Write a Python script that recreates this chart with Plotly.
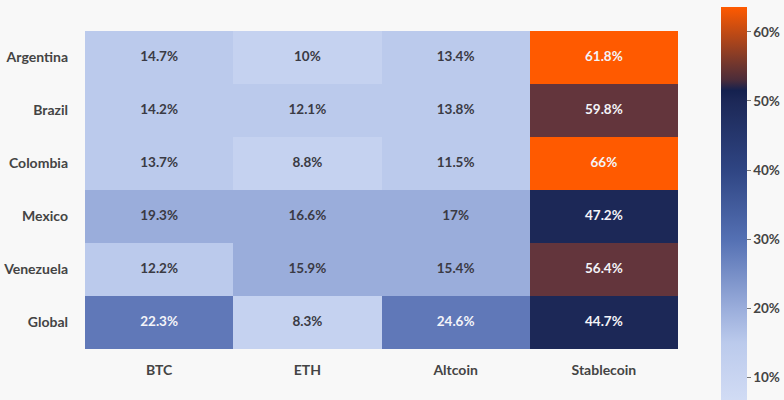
import plotly.graph_objects as go

categories = ["BTC", "ETH", "Altcoin", "Stablecoin"]
countries = ["Argentina", "Brazil", "Colombia", "Mexico", "Venezuela", "Global"]
values = [
    [14.7, 10, 13.4, 61.8],
    [14.2, 12.1, 13.8, 59.8],
    [13.7, 8.8, 11.5, 66],
    [19.3, 16.6, 17, 47.2],
    [12.2, 15.9, 15.4, 56.4],
    [22.3, 8.3, 24.6, 44.7],
]
tick_vals = [10, 20, 30, 40, 50, 60]
tick_text = ["10%", "20%", "30%", "40%", "50%", "60%"]
bin_edges = [8, 11, 15, 20, 40, 50, 60, 66]
bin_colors = ["#c5d2f0", "#bbcaec", "#9aaddb", "#6078b8", "#1c2857", "#63353c", "#ff5a00"]
bar_stops = [(6, "#d3ddf5"), (15, "#bbcaec"), (20, "#9aaddb"), (30, "#5470b3"),
             (40, "#2f4583"), (50, "#1c2857"), (51.5, "#14214f"), (53, "#4a2c3a"),
             (63.6, "#ff5a00")]

zmin, zmax = bin_edges[0], bin_edges[-1]
cell_scale = []
for i, c in enumerate(bin_colors):
    cell_scale.append([(bin_edges[i] - zmin) / (zmax - zmin), c])
    cell_scale.append([(bin_edges[i + 1] - zmin) / (zmax - zmin), c])

cmin, cmax = bar_stops[0][0], bar_stops[-1][0]
bar_scale = [[(v - cmin) / (cmax - cmin), c] for v, c in bar_stops]

xs, ys, texts, colors = [], [], [], []
for r, row in enumerate(values):
    for c, v in enumerate(row):
        xs.append(categories[c])
        ys.append(countries[r])
        texts.append(f"{v}%")
        colors.append("#f4f4f8" if v >= 20 else "#3a3a44")

fig = go.Figure()
fig.add_trace(go.Heatmap(z=values, x=categories, y=countries, colorscale=cell_scale,
                         zmin=zmin, zmax=zmax, showscale=False, hoverinfo="skip"))
fig.add_trace(go.Scatter(x=xs, y=ys, mode="text", text=texts, showlegend=False,
                         textfont=dict(family="Lato", size=13.5, color=colors, weight=700)))
fig.add_trace(go.Scatter(
    x=[categories[0]], y=[countries[0]], mode="markers", showlegend=False, hoverinfo="skip",
    marker=dict(size=1, opacity=0, color=[cmin], cmin=cmin, cmax=cmax, colorscale=bar_scale,
                showscale=True,
                colorbar=dict(
                    tickvals=tick_vals, ticktext=tick_text, thickness=26, thicknessmode="pixels",
                    len=398, lenmode="pixels", xref="paper", yref="paper",
                    x=1.0725, xanchor="left", y=-0.176, yanchor="bottom",
                    xpad=0, ypad=0, outlinewidth=0, borderwidth=0,
                    ticks="outside", ticklen=4, tickcolor="#777777", tickwidth=1,
                    tickfont=dict(family="Lato", size=13.5, color="#444444", weight=700),
                )),
))
fig.update_layout(
    width=784, height=400,
    paper_bgcolor="#f8f8f8", plot_bgcolor="#f8f8f8",
    margin=dict(l=85, r=106, t=31, b=51, autoexpand=False),
    font=dict(family="Lato", size=14, color="#444444", weight=700),
    showlegend=False,
)
fig.update_xaxes(showgrid=False, zeroline=False, ticks="", ticklen=0, side="bottom", ticklabelstandoff=11)
fig.update_yaxes(showgrid=False, zeroline=False, ticks="", autorange="reversed", ticklabelstandoff=16)
fig.write_html("out.html", config={"displayModeBar": False},
               post_script="document.body.style.margin='0';document.body.style.background='#f8f8f8';document.body.style.overflow='hidden';")
